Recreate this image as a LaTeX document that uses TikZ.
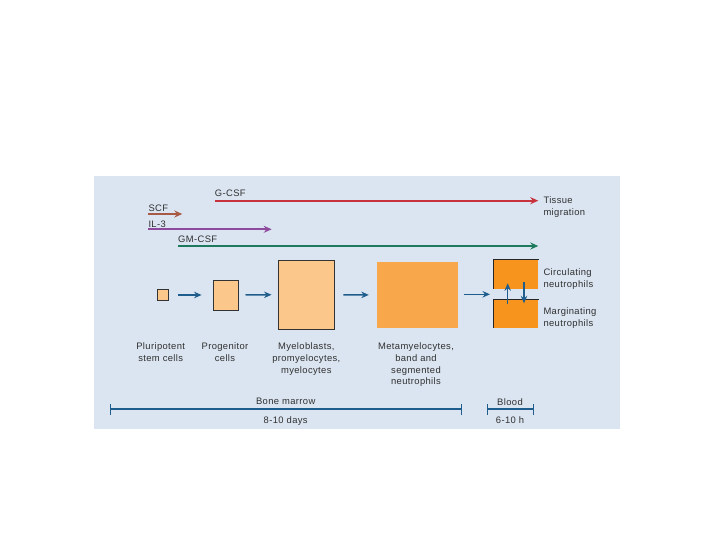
\documentclass[tikz,border=0pt]{standalone}
\usepackage{fontspec}
\setmainfont{Liberation Sans}[LetterSpace=4]
\usetikzlibrary{arrows.meta}
\definecolor{bgblue}{HTML}{DBE5F1}
\definecolor{gcsf}{HTML}{C8323C}
\definecolor{scf}{HTML}{A85A44}
\definecolor{ilthree}{HTML}{8E4A9C}
\definecolor{gmcsf}{HTML}{1E7A5C}
\definecolor{flowblue}{HTML}{1F5E8C}
\definecolor{lightor}{HTML}{FCC78B}
\definecolor{midor}{HTML}{F9A74B}
\definecolor{darkor}{HTML}{F7941D}
\definecolor{txt}{HTML}{303030}
\tikzset{
  lbl/.style={inner sep=0pt, text=txt, font=\fontsize{9.4}{11.8}\selectfont, align=center},
  lbll/.style={lbl, align=left, anchor=north west},
  cyto/.style={line width=1.9pt, -{Stealth[length=8pt,width=7pt]}},
  flow/.style={line width=1.5pt, flowblue, -{Stealth[length=7.5pt,width=6.5pt]}},
  cellbox/.style={inner sep=0pt, draw=black!80, line width=0.9pt},
  bar/.style={line width=1.4pt, flowblue},
}
\begin{document}
\begin{tikzpicture}[x=1pt,y=-1pt]
\useasboundingbox (0,0) rectangle (720,540);
\fill[bgblue] (94,176) rectangle (620,429);

% cytokine labels
\node[lbll] (lg) at (214.7,190) {G-CSF};
\node[lbll] (ls) at (148.3,205) {SCF};
\node[lbll] (li) at (148.3,220.7) {IL-3};
\node[lbll] (lgm) at (178,236) {GM-CSF};
\node[lbll] (tm) at (543.3,196.7) {Tissue\\migration};

\coordinate (g0) at (214.7,200.7); \coordinate (g1) at (538.3,200.7);
\coordinate (s0) at (148.3,214);   \coordinate (s1) at (182.3,214);
\coordinate (i0) at (148.3,229.3); \coordinate (i1) at (271.7,229.3);
\coordinate (m0) at (178,246);     \coordinate (m1) at (538.3,246);
\draw[cyto, gcsf] (g0) -- (g1);
\draw[cyto, scf] (s0) -- (s1);
\draw[cyto, ilthree] (i0) -- (i1);
\draw[cyto, gmcsf] (m0) -- (m1);

% cell boxes
\node[cellbox, fill=lightor, minimum width=11.4pt, minimum height=11.4pt] (b1) at (163,295) {};
\node[cellbox, fill=lightor, minimum width=25.7pt, minimum height=30pt] (b2) at (225.9,295) {};
\node[cellbox, fill=lightor, minimum width=56.4pt, minimum height=69.3pt] (b3) at (306.5,294.7) {};
\node[inner sep=0pt, fill=midor, minimum width=81pt, minimum height=65.4pt] (b4) at (417.2,295) {};
\node[inner sep=0pt, fill=darkor, minimum width=45pt, minimum height=28.7pt] (bc) at (515.8,274.3) {};
\node[inner sep=0pt, fill=darkor, minimum width=45pt, minimum height=27.7pt] (bm) at (515.8,313.9) {};
\draw[line width=0.9pt, black!85] (bc.south west) -- (bc.north west) -- (bc.north east);
\draw[line width=0.9pt, black!85] (bm.south west) -- (bm.north west) -- (bm.north east);

% flow arrows
\draw[flow, shorten <=9pt, shorten >=11pt] (b1.east) -- (b2.west);
\draw[flow, shorten <=6.3pt, shorten >=6.3pt] (b2.east) -- (b3.west);
\draw[flow, shorten <=8.3pt, shorten >=7.7pt] (b3.east) -- (b4.west);
\coordinate (gap) at (493.3,294.3);
\draw[flow, shorten <=6.3pt, shorten >=3.3pt] (b4.east |- gap) -- (gap);
\coordinate (u0) at (507.7,304.3); \coordinate (u1) at (507.7,283.3);
\coordinate (d0) at (524,282.3);   \coordinate (d1) at (524,303.3);
\draw[flow] (u0) -- (u1);
\draw[flow] (d0) -- (d1);

% labels of cells
\node[lbll] (lc) at (543.3,268.3) {Circulating\\neutrophils};
\node[lbll] (lmg) at (543.3,307.3) {Marginating\\neutrophils};
\node[lbl, anchor=north] (t1) at (160.7,342.7) {Pluripotent\\stem cells};
\node[lbl, anchor=north] (t2) at (225,342.7) {Progenitor\\cells};
\node[lbl, anchor=north] (t3) at (306.3,342.5) {Myeloblasts,\\promyelocytes,\\myelocytes};
\node[lbl, anchor=north] (t4) at (416,342.5) {Metamyelocytes,\\band and\\segmented\\neutrophils};

% time bars
\coordinate (bm0) at (110.7,409); \coordinate (bm1) at (461.3,409);
\coordinate (bl0) at (487.3,409); \coordinate (bl1) at (533.3,409);
\draw[bar] (bm0) -- (bm1);
\draw[bar] ([yshift=-5.5pt]bm0) -- ([yshift=5.5pt]bm0);
\draw[bar] ([yshift=-5.5pt]bm1) -- ([yshift=5.5pt]bm1);
\draw[bar] (bl0) -- (bl1);
\draw[bar] ([yshift=-5.5pt]bl0) -- ([yshift=5.5pt]bl0);
\draw[bar] ([yshift=-5.5pt]bl1) -- ([yshift=5.5pt]bl1);
\node[lbl, anchor=north] (tb) at (285.7,398.3) {Bone marrow};
\node[lbl, anchor=north] (td) at (285.7,416.7) {8-10 days};
\node[lbl, anchor=north] (tbl) at (510,398.3) {Blood};
\node[lbl, anchor=north] (th) at (510,416.7) {6-10 h};
\end{tikzpicture}
\end{document}
